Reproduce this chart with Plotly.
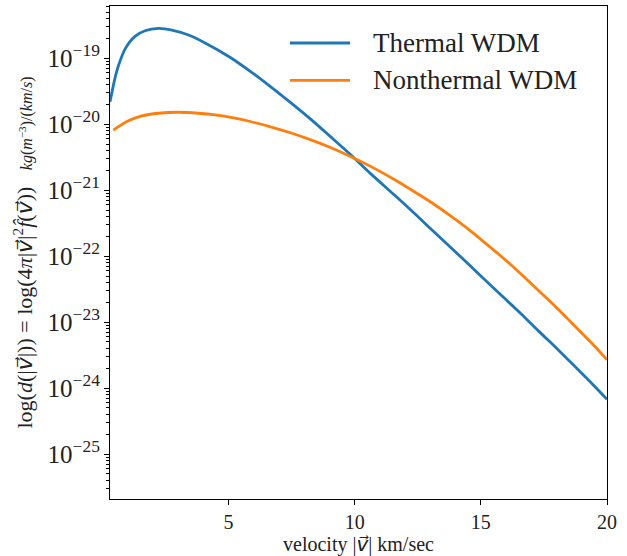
import plotly.graph_objects as go

# Thermal WDM (velocity km/s, log10 of density)
thermal_v = [0.30, 0.37, 0.50, 0.63, 0.90, 1.29, 1.69, 2.22, 2.75, 3.41, 4.07, 5.07,
             5.86, 6.66, 7.45, 8.24, 9.04, 9.83, 10.63, 11.62, 12.50, 13.33, 14.20,
             15.00, 15.80, 16.58, 17.30, 18.04, 18.80, 19.40, 20.00]
thermal_log = [-19.66, -19.53, -19.30, -19.12, -18.86, -18.67, -18.585, -18.55, -18.575,
               -18.65, -18.77, -18.99, -19.20, -19.43, -19.67, -19.92, -20.19, -20.46,
               -20.75, -21.09, -21.40, -21.70, -22.01, -22.30, -22.59, -22.87, -23.14,
               -23.41, -23.70, -23.93, -24.17]

# Nonthermal WDM
nonthermal_v = [0.43, 1.03, 1.56, 2.22, 3.01, 3.81, 4.47, 5.20, 5.86, 6.66, 7.45, 8.24,
                9.04, 9.83, 10.63, 11.62, 12.22, 13.01, 13.80, 14.60, 15.39, 16.19,
                16.98, 17.78, 18.57, 19.37, 20.00]
nonthermal_log = [-20.09, -19.95, -19.875, -19.835, -19.82, -19.835, -19.86, -19.905,
                  -19.96, -20.04, -20.13, -20.235, -20.355, -20.49, -20.64, -20.85,
                  -20.99, -21.18, -21.39, -21.62, -21.87, -22.13, -22.41, -22.70,
                  -23.00, -23.31, -23.57]

series_names = ["Thermal WDM", "Nonthermal WDM"]
series_colors = ["#1f77b4", "#ff7f0e"]

x_ticks = [5, 10, 15, 20]

FONT = "Liberation Serif"
VEC = '<span style="font-family:DejaVu Sans"><i>v⃗</i></span>'

fig = go.Figure()
for v, lg, name, col in [(thermal_v, thermal_log, series_names[0], series_colors[0]),
                         (nonthermal_v, nonthermal_log, series_names[1], series_colors[1])]:
    fig.add_trace(go.Scatter(
        x=v, y=[10 ** l for l in lg], mode="lines", name=name,
        line=dict(color=col, width=2.8, shape="spline", smoothing=0.8),
        showlegend=False,
    ))

# manual legend (matplotlib style, long line handles)
leg_y = [0.925, 0.849]
for i, (name, col) in enumerate(zip(series_names, series_colors)):
    fig.add_shape(type="line", xref="paper", yref="paper",
                  x0=0.362, x1=0.483, y0=leg_y[i], y1=leg_y[i],
                  line=dict(color=col, width=2.8))
    fig.add_annotation(xref="paper", yref="paper", x=0.525, y=leg_y[i],
                       text=name, showarrow=False, xanchor="left", yanchor="middle",
                       font=dict(family=FONT, size=27, color="#222"))

fig.update_layout(
    width=627, height=556,
    margin=dict(l=110, r=20, t=5, b=56),
    paper_bgcolor="white", plot_bgcolor="white",
    font=dict(family=FONT, size=20, color="#222"),
)
fig.update_xaxes(
    range=[0.3, 20], tickvals=x_ticks, ticktext=[str(t) for t in x_ticks],
    showgrid=False, zeroline=False,
    showline=True, linecolor="black", linewidth=1.2, mirror=True,
    ticks="outside", ticklen=5, tickwidth=1, tickcolor="black",
    tickfont=dict(family=FONT, size=20, color="#222"),
    title=dict(text="velocity |" + VEC + "| km/sec", standoff=4,
               font=dict(family=FONT, size=20, color="#222")),
)
y_title = ("log(<i>d</i>(|" + VEC + "|)) = log(4<i>π</i>|" + VEC
           + "|<sup>2</sup><i>f̂</i>(" + VEC + "))"
           + '   <span style="font-size:16px"><i>kg</i>(<i>m</i><sup>−3</sup>)/(<i>km</i>/<i>s</i>)</span>'
           + "\u00a0" * 8)
fig.update_yaxes(
    type="log", range=[-25.68, -18.21], dtick=1, exponentformat="power",
    showgrid=False, zeroline=False,
    showline=True, linecolor="black", linewidth=1.2, mirror=True,
    ticks="outside", ticklen=5, tickwidth=1, tickcolor="black",
    minor=dict(ticks="outside", ticklen=2.5, tickcolor="black", dtick="D1", showgrid=False),
    tickfont=dict(family=FONT, size=20, color="#222"),
    title=dict(text=y_title, standoff=8, font=dict(family=FONT, size=22, color="#222")),
)

fig.write_html("out.html", config={"displayModeBar": False},
               post_script="document.body.style.margin='0px';")
